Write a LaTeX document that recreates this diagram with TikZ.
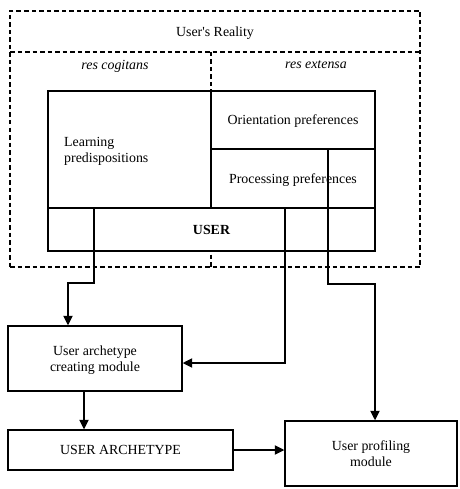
\documentclass[tikz,border=0pt]{standalone}
\usepackage{fontspec}
\setmainfont{Liberation Serif}
\usetikzlibrary{arrows.meta}
\begin{document}
\begin{tikzpicture}[x=1pt,y=-1pt,
  every node/.style={font=\fontsize{13.9}{16}\selectfont},
  frame/.style={draw, line width=1.3pt, fill=white, inner sep=0pt, text depth=0pt},
  dashfr/.style={draw, line width=1.2pt, dash pattern=on 4.5pt off 3pt},
  arr/.style={line width=1.8pt, -{Triangle[length=9.5pt,width=9pt]}},
  plain/.style={line width=1.8pt}]
\useasboundingbox (0,0) rectangle (459,489);
% dashed reality frame
\node[dashfr, minimum width=410pt, minimum height=256pt, inner sep=0pt] (reality) at (215,139) {};
\node[text depth=0pt] (realtext) at (215,32) {User\textquotesingle s Reality};
\coordinate (sepL) at (10,52);
\coordinate (sepR) at (420,52);
\draw[dashfr] (sepL) -- (sepR);
\coordinate (midT) at (211,52);
\draw[dashfr] (midT) -- (reality.south -| midT);
\node[font=\fontsize{13.9}{16}\selectfont\itshape, text depth=0pt] (cog) at (115,65) {res cogitans};
\node[font=\fontsize{13.9}{16}\selectfont\itshape, text depth=0pt] (ext) at (316,65) {res extensa};
% inner boxes
\node[frame, minimum width=163pt, minimum height=117pt] (learn) at (129.5,149.5) {};
\node[anchor=west, align=left, inner sep=0pt] (learntext) at (64,151) {Learning\\predispositions};
\node[frame, minimum width=164pt, minimum height=58pt] (orient) at (293,120) {Orientation preferences};
\node[frame, minimum width=164pt, minimum height=59pt] (proc) at (293,178.5) {Processing preferences};
\node[frame, minimum width=327pt, minimum height=43pt, font=\fontsize{13.9}{16}\selectfont\bfseries] (user) at (211.5,229.5) {USER};
% lower boxes
\node[frame, minimum width=174pt, minimum height=65pt, align=center] (create) at (95,358.5) {User archetype\\creating module};
\node[frame, minimum width=225pt, minimum height=40pt] (arch) at (120.5,450) {USER ARCHETYPE};
\node[frame, minimum width=172pt, minimum height=65pt, align=center] (profile) at (371,453.5) {User profiling\\module};
% connectors
\coordinate (b1) at (94,283);
\coordinate (b3) at (328,284);
\draw[arr] (user.north -| b1) -- (b1) -| (create.north -| 68,0);
\draw[arr] (user.north -| 285,0) |- (create.east |- 0,363);
\draw[arr] (proc.north -| b3) -- (b3) -| (profile.north -| 375,0);
\draw[arr] (create.south -| 84,0) -- (arch.north -| 84,0);
\draw[arr] (arch.east) -- (profile.west |- arch.east);
\end{tikzpicture}
\end{document}
